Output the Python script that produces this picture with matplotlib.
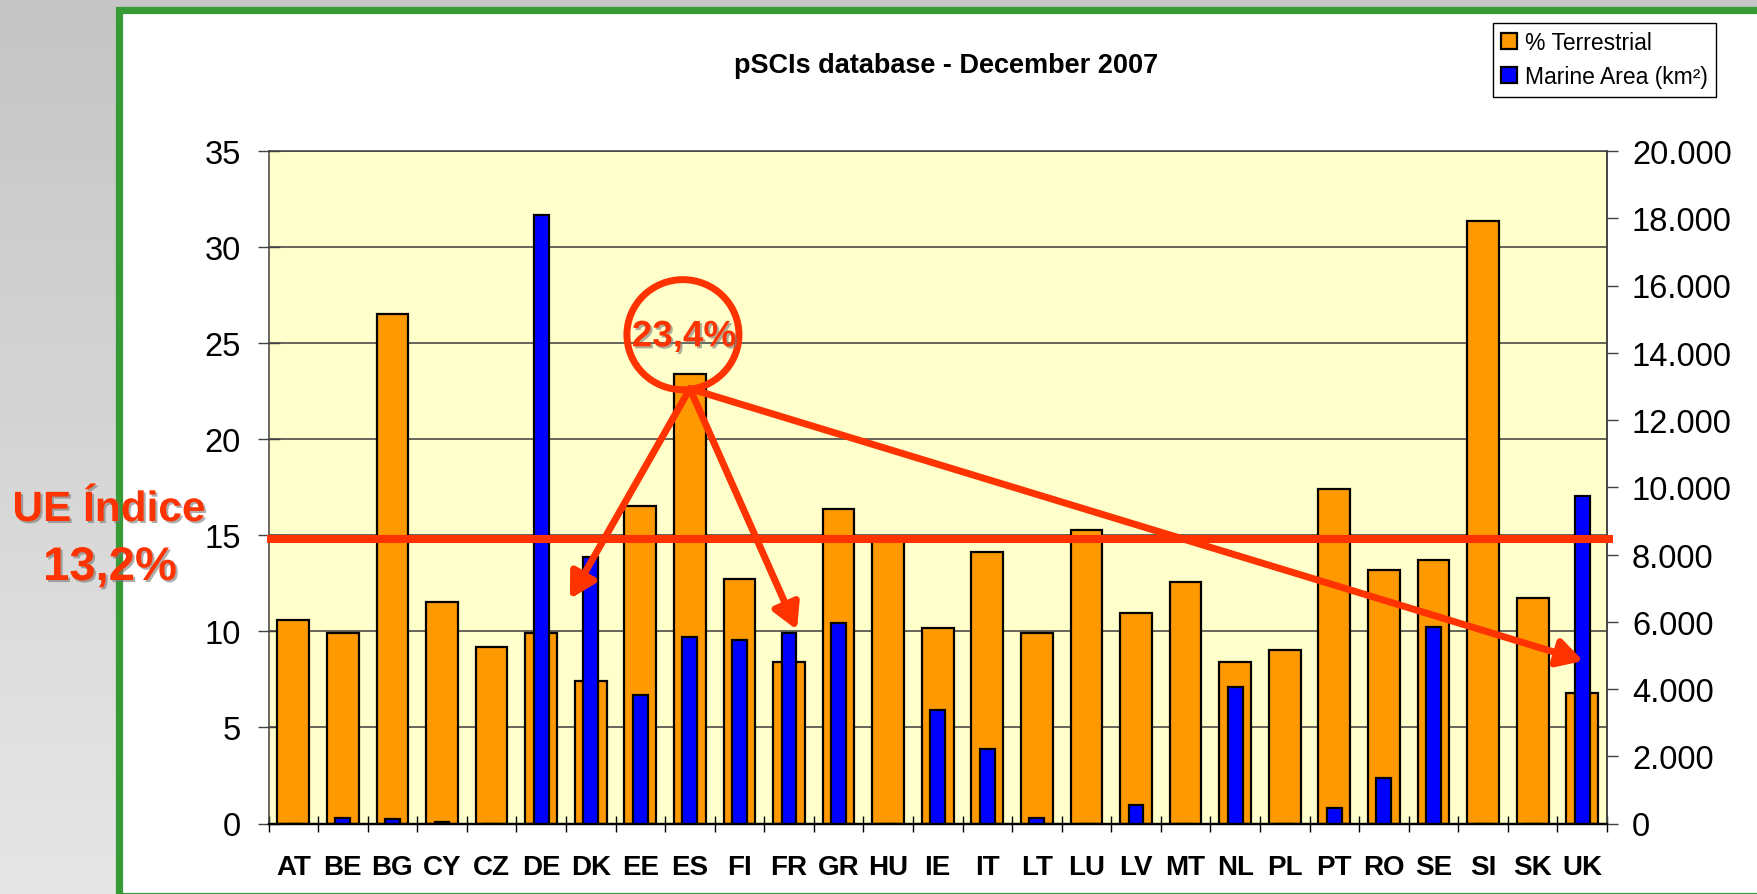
import numpy as np
import matplotlib
matplotlib.use('Agg')
import matplotlib.pyplot as plt
from matplotlib.patches import Rectangle, Ellipse, FancyArrowPatch
from matplotlib.ticker import FuncFormatter
import matplotlib.patheffects as pe

# ---------------- data ----------------
countries = ['AT', 'BE', 'BG', 'CY', 'CZ', 'DE', 'DK', 'EE', 'ES', 'FI', 'FR', 'GR', 'HU', 'IE',
             'IT', 'LT', 'LU', 'LV', 'MT', 'NL', 'PL', 'PT', 'RO', 'SE', 'SI', 'SK', 'UK']
terrestrial = [10.6, 9.9, 26.5, 11.55, 9.2, 9.9, 7.4, 16.5, 23.4, 12.7, 8.4, 16.35, 14.75, 10.15,
               14.15, 9.9, 15.3, 10.95, 12.55, 8.4, 9.05, 17.4, 13.2, 13.7, 31.35, 11.75, 6.8]
marine = [0, 170, 130, 50, 0, 18090, 7940, 3830, 5560, 5470, 5660, 5970, 0, 3380,
          2210, 165, 0, 540, 0, 4050, 0, 465, 1345, 5850, 0, 0, 9730]
left_ticks = [0, 5, 10, 15, 20, 25, 30, 35]
right_ticks = [0, 2000, 4000, 6000, 8000, 10000, 12000, 14000, 16000, 18000, 20000]
ue_line_level = 14.82
title = 'pSCIs database - December 2007'
series_names = ['% Terrestrial', 'Marine Area (km²)']
ue_text = ['UE Índice', '13,2%']
es_text = '23,4%'

ORANGE = '#FF9900'
BLUE = '#0000FF'
RED = '#FF3300'
GREEN = '#379A37'

plt.rcParams['font.family'] = ['Liberation Sans', 'DejaVu Sans']

W, H = 1757, 895
fig = plt.figure(figsize=(W / 100, H / 100), dpi=100)

# ---------------- slide background ----------------
bg = fig.add_axes([0, 0, 1, 1])
bg.set_xlim(0, W)
bg.set_ylim(H, 0)
bg.axis('off')
grad = np.linspace(0.77, 0.90, 256).reshape(-1, 1)
bg.imshow(grad, cmap='gray', vmin=0, vmax=1, extent=[0, W, H, 0], aspect='auto')
bg.add_patch(Rectangle((118.5, 11), W, 886, facecolor='white', edgecolor=GREEN,
                       linewidth=5.2))

# ---------------- main chart ----------------
pos = [268.5 / W, 1 - 824.5 / H, (1607 - 268.5) / W, (824.5 - 152) / H]
ax = fig.add_axes(pos)
ax.set_facecolor('#FFFFCC')
x = np.arange(len(countries))
b1 = ax.bar(x, terrestrial, width=0.64, color=ORANGE, edgecolor='black',
            linewidth=1.6, zorder=2)
ax.set_xlim(-0.5, len(countries) - 0.5)
ax.set_ylim(0, 35)
ax.set_yticks(left_ticks)
ax.yaxis.grid(True, color='#3a3a3a', linewidth=1.1)
ax.set_axisbelow(True)
ax.set_xticks(x)
ax.set_xticklabels(countries, fontweight='bold', fontsize=20)
ax.set_xticks(np.arange(-0.5, len(countries)), minor=True)
ax.tick_params(axis='x', which='major', length=0, pad=22)
ax.tick_params(axis='x', which='minor', direction='inout', length=11.5, width=1.0,
               color='black')
ax.tick_params(axis='y', direction='inout', length=16, width=1.0, color='#404040',
               labelsize=23.5, pad=12)
for s in ['left', 'right', 'top']:
    ax.spines[s].set_color('#404040')
    ax.spines[s].set_linewidth(1.1)
ax.spines['bottom'].set_color('black')
ax.spines['bottom'].set_linewidth(1.6)

ax2 = ax.twinx()
b2 = ax2.bar(x, marine, width=0.3, color=BLUE, edgecolor='black', linewidth=1.6, zorder=2)
ax2.set_ylim(0, 20000)
ax2.set_yticks(right_ticks)
ax2.yaxis.set_major_formatter(FuncFormatter(lambda v, p: f'{int(v):,}'.replace(',', '.')))
ax2.tick_params(axis='y', direction='out', length=8, width=1.0, color='#404040',
                labelsize=23.5, pad=10)
ax2.spines['left'].set_visible(False)
ax2.spines['top'].set_visible(False)
ax2.spines['right'].set_color('#404040')
ax2.spines['right'].set_linewidth(1.1)
ax2.spines['bottom'].set_color('black')
ax2.spines['bottom'].set_linewidth(1.6)

# ---------------- annotation overlay ----------------
ov = fig.add_axes(pos)
ov.set_xlim(ax.get_xlim())
ov.set_ylim(ax.get_ylim())
ov.axis('off')
ov.patch.set_visible(False)

ov.plot([-0.54, 26.62], [ue_line_level, ue_line_level], color=RED, lw=5.8,
        solid_capstyle='butt', clip_on=False, zorder=5)

start = (8.0, 22.63)
for tip in [(5.58, 11.69), (10.16, 10.08), (26.02, 8.46)]:
    arr = FancyArrowPatch(start, tip, arrowstyle='-|>,head_length=0.75,head_width=0.42',
                          mutation_scale=20, lw=5, color=RED, shrinkA=0, shrinkB=0,
                          clip_on=False, zorder=6)
    ov.add_patch(arr)

ov.add_patch(Ellipse((7.86, 25.44), 2.26, 5.73, fill=False, edgecolor=RED, lw=5,
                     zorder=7, clip_on=False))
shadow = [pe.withSimplePatchShadow(offset=(1.5, -1.5), shadow_rgbFace='#777777', alpha=0.6)]
ov.text(7.88, 25.33, es_text, fontsize=26.5, fontweight='bold', color=RED, ha='center',
        va='center', zorder=8, path_effects=shadow)

# ---------------- figure texts ----------------
fig.text(946 / W, 1 - 66 / H, title, fontsize=19.5, fontweight='bold', ha='center',
         va='center')
fig.text(109 / W, 1 - 511 / H, ue_text[0], fontsize=30.5, fontweight='bold', color=RED,
         ha='center', va='center', path_effects=shadow)
fig.text(110 / W, 1 - 569 / H, ue_text[1], fontsize=34, fontweight='bold', color=RED,
         ha='center', va='center', path_effects=shadow)

leg = fig.legend(handles=[b1, b2], labels=series_names, loc='upper left',
                 bbox_to_anchor=(1493 / W, 1 - 24 / H), borderaxespad=0, fontsize=16.5,
                 frameon=True, fancybox=False, edgecolor='black', framealpha=1,
                 handlelength=0.7, handleheight=0.7, handletextpad=0.35, borderpad=0.35,
                 labelspacing=0.5)
leg.get_frame().set_linewidth(1.0)

fig.savefig('out.png', dpi=100)
